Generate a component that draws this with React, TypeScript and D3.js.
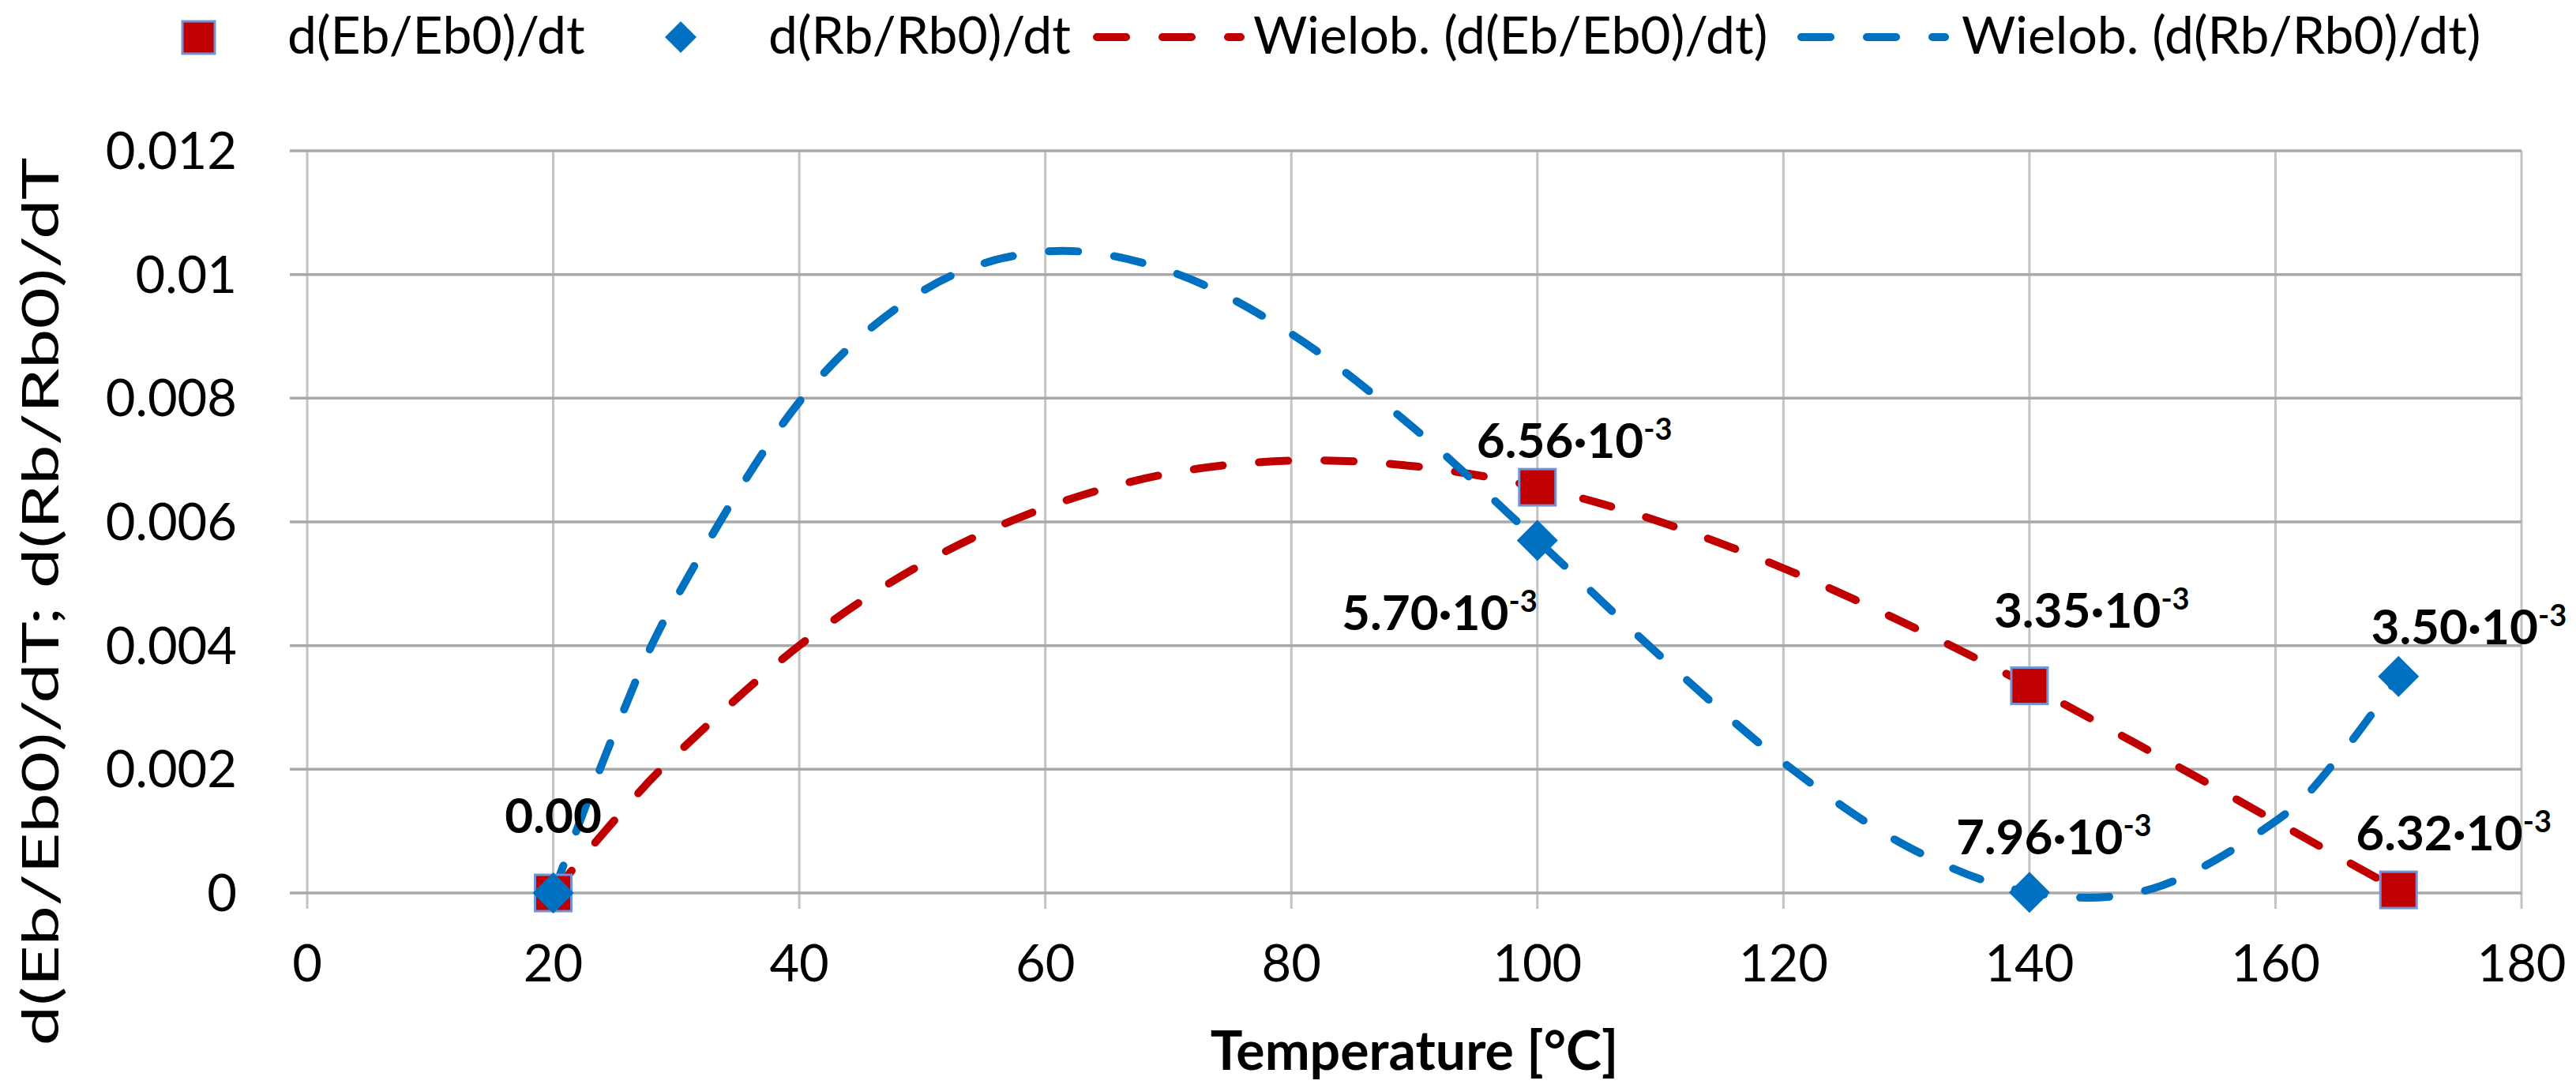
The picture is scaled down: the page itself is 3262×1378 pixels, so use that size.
import { useEffect } from 'react'
import * as d3 from 'd3'

// measured points
const temps = [20, 100, 140, 170]
const ebRate = [0, 0.00656, 0.00335, 0.00005]
const rbRate = [0, 0.0057, 0.00001, 0.0035]
const ebLabels = ['0.00', '6.56', '3.35', '6.32']
const rbLabels = ['', '5.70', '7.96', '3.50']

// polynomial trend lines
const trendT = [20, 25, 30, 40, 50, 60, 70, 80, 90, 100, 110, 120, 130, 140, 150, 160, 165, 170]
const ebTrend = [0, 0.00118, 0.00224, 0.004, 0.00532, 0.00623, 0.00678, 0.00699, 0.0069, 0.00656, 0.006, 0.00525, 0.00435, 0.00335, 0.00227, 0.00116, 0.0006, 0.00005]
const rbTrend = [0, 0.0026, 0.00477, 0.00794, 0.00973, 0.01037, 0.01006, 0.00904, 0.00751, 0.0057, 0.00383, 0.00211, 0.00076, 0.00001, 0.00007, 0.00116, 0.00216, 0.0035]

const xTicks = [0, 20, 40, 60, 80, 100, 120, 140, 160, 180]
const yTicks = [0, 0.002, 0.004, 0.006, 0.008, 0.01, 0.012]
const yTickLabels = ['0', '0.002', '0.004', '0.006', '0.008', '0.01', '0.012']

const legendNames = ['d(Eb/Eb0)/dt', 'd(Rb/Rb0)/dt', 'Wielob. (d(Eb/Eb0)/dt)', 'Wielob. (d(Rb/Rb0)/dt)']

const RED = '#C00000'
const BLUE = '#0070C0'
const FONT = 'Lato, Carlito, Calibri, sans-serif'
const DASH = '37 46'

const W = 3262
const H = 1378

export default function App() {
  useEffect(() => {
    document.body.style.margin = '0'
  }, [])

  const x = d3.scaleLinear().domain([0, 180]).range([389, 3193])
  const y = d3.scaleLinear().domain([0, 0.012]).range([1131, 191])

  const line = (vals: number[]) =>
    d3.line<number>()
      .x((_, i) => x(trendT[i]))
      .y(d => y(d))
      .curve(d3.curveCatmullRom.alpha(0))(vals) || ''

  const diamond = (cx: number, cy: number, r: number) =>
    `M${cx},${cy - r}L${cx + r},${cy}L${cx},${cy + r}L${cx - r},${cy}Z`

  // label placement relative to the point [dx, dy, anchor]
  const ebLabelPos: [number, number, string][] = [[0, -76, 'middle'], [-77, -37, 'start'], [-45, -74, 'start'], [-54, -50, 'start']]
  const rbLabelPos: [number, number, string][] = [[0, 0, 'middle'], [0, 113, 'end'], [-93, -48, 'start'], [213, -41, 'end']]

  const label = (mant: string, px: number, py: number, pos: [number, number, string], key: string) => {
    if (!mant) return null
    if (mant === '0.00') {
      return (
        <text key={key} x={px + pos[0]} y={py + pos[1]} textAnchor={pos[2] as any} fontSize={62} fontWeight="bold" fill="#000">
          {mant}
        </text>
      )
    }
    return (
      <text key={key} x={px + pos[0]} y={py + pos[1]} textAnchor={pos[2] as any} fontSize={62} fontWeight="bold" fill="#000">
        {mant}·10<tspan dy={-23} fontSize={38}>-3</tspan>
      </text>
    )
  }

  const legY = 47

  return (
    <svg width={W} height={H} style={{ display: 'block', background: '#fff', fontFamily: FONT }}>
      <rect width={W} height={H} fill="#fff" />

      {/* legend */}
      <g>
        <rect x={231} y={legY - 20} width={41} height={41} fill={RED} stroke="#6F95D6" strokeWidth={3} />
        <text x={364} y={68} fontSize={66} fill="#000">{legendNames[0]}</text>
        <path d={diamond(862, legY, 20)} fill={BLUE} />
        <text x={973} y={68} fontSize={66} fill="#000">{legendNames[1]}</text>
        <line x1={1389} x2={1571} y1={legY} y2={legY} stroke={RED} strokeWidth={10} strokeDasharray={DASH} strokeLinecap="round" />
        <text x={1587} y={68} fontSize={66} fill="#000">{legendNames[2]}</text>
        <line x1={2281} x2={2463} y1={legY} y2={legY} stroke={BLUE} strokeWidth={10} strokeDasharray={DASH} strokeLinecap="round" />
        <text x={2484} y={68} fontSize={66} fill="#000">{legendNames[3]}</text>
      </g>

      {/* grid */}
      {xTicks.map(t => (
        <line key={'vx' + t} x1={x(t)} x2={x(t)} y1={y(0.012)} y2={y(0) + 20} stroke="#C3C3C3" strokeWidth={3} />
      ))}
      {yTicks.map(t => (
        <line key={'hy' + t} x1={x(0) - 22} x2={x(180)} y1={y(t)} y2={y(t)} stroke="#A9A9A9" strokeWidth={3.5} />
      ))}

      {/* tick labels */}
      {xTicks.map(t => (
        <text key={'xl' + t} x={x(t)} y={1243} textAnchor="middle" fontSize={65} fill="#000">{t}</text>
      ))}
      {yTicks.map((t, i) => (
        <text key={'yl' + t} x={300} y={y(t) + 23} textAnchor="end" fontSize={65} fill="#000">{yTickLabels[i]}</text>
      ))}

      {/* axis titles */}
      <text x={(x(0) + x(180)) / 2} y={1355} textAnchor="middle" fontSize={68} fontWeight="bold" fill="#000">
        Temperature [°C]
      </text>
      <text
        transform={`translate(74,${762}) rotate(-90)`}
        textAnchor="middle"
        fontSize={64}
        fill="#000"
        textLength={1125}
        lengthAdjust="spacingAndGlyphs"
      >
        d(Eb/Eb0)/dT; d(Rb/Rb0)/dT
      </text>

      {/* trend lines */}
      <path d={line(ebTrend)} fill="none" stroke={RED} strokeWidth={10} strokeDasharray={DASH} strokeLinecap="round" />
      <path d={line(rbTrend)} fill="none" stroke={BLUE} strokeWidth={10} strokeDasharray={DASH} strokeLinecap="round" />

      {/* markers */}
      {temps.map((t, i) => (
        <rect key={'sq' + t} x={x(t) - 23} y={y(ebRate[i]) - 23} width={46} height={46} fill={RED} stroke="#6F95D6" strokeWidth={3} />
      ))}
      {temps.map((t, i) => (
        <path key={'dm' + t} d={diamond(x(t), y(rbRate[i]), 26)} fill={BLUE} />
      ))}

      {/* data labels */}
      {temps.map((t, i) => label(ebLabels[i], x(t), y(ebRate[i]), ebLabelPos[i], 'le' + t))}
      {temps.map((t, i) => label(rbLabels[i], x(t), y(rbRate[i]), rbLabelPos[i], 'lr' + t))}
    </svg>
  )
}
